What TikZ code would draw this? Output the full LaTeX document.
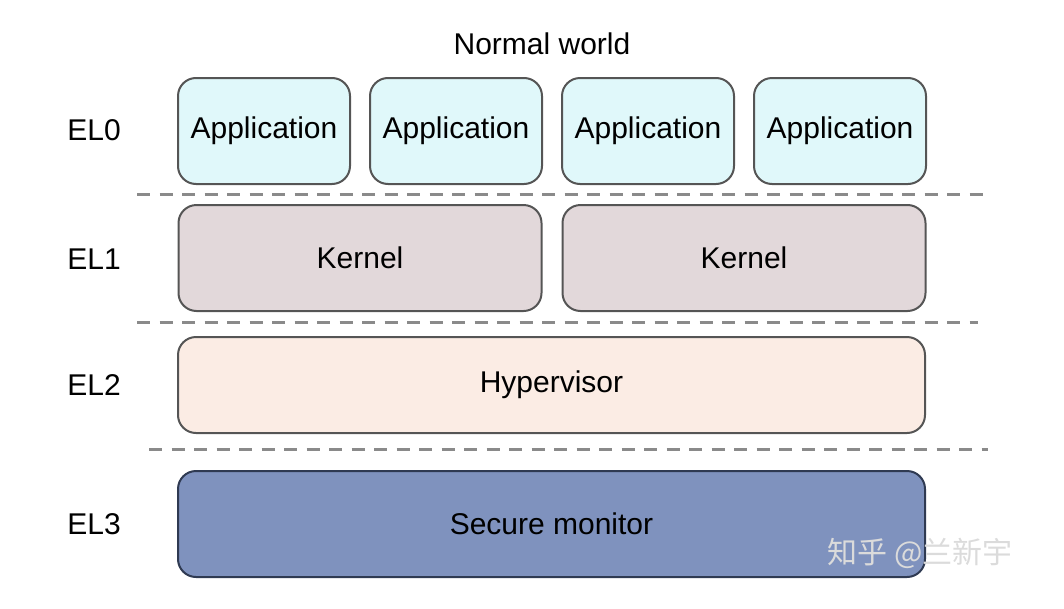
\documentclass[tikz,border=0pt]{standalone}
\usepackage{fontspec}
\setmainfont{Liberation Sans}
\newfontfamily\cjk{Noto Sans CJK SC}
\usepackage{tikz}
\usetikzlibrary{positioning,backgrounds}
\definecolor{appfill}{HTML}{E0F8FA}
\definecolor{kernfill}{HTML}{E2D8DA}
\definecolor{hypfill}{HTML}{FBECE4}
\definecolor{secfill}{HTML}{7F92BE}
\definecolor{boxline}{HTML}{555555}
\definecolor{secline}{HTML}{2F3A52}
\definecolor{sepline}{HTML}{8A8A8A}

\begin{document}
\begin{tikzpicture}[x=1pt,y=-1pt]
        \useasboundingbox (0,0) rectangle (1064,608);
        \tikzstyle{every node}=[font=\fontsize{30}{34}\selectfont, text=black]
        \tikzstyle{layer}=[draw=boxline, line width=2pt, rounded corners=18pt, inner sep=0pt]
        \tikzstyle{app}=[layer, fill=appfill, minimum width=172pt, minimum height=106pt]
        \tikzstyle{kern}=[layer, fill=kernfill, minimum width=363pt, minimum height=106pt]
        \tikzstyle{sep}=[draw=sepline, line width=3pt, dash pattern=on 13pt off 9.5pt]

        \node (NW) at (542,44) {Normal world};

        % exception levels
        \node (EL0) at (94,130) {EL0};
        \node (EL1) at (94,259) {EL1};
        \node (EL2) at (94,385) {EL2};
        \node (EL3) at (94,524) {EL3};

        \node[app] (A1) at (264,131) {Application};
        \node[app] (A2) at (456,131) {Application};
        \node[app] (A3) at (648,131) {Application};
        \node[app] (A4) at (840,131) {Application};

        \node[kern] (K1) at (360,258) {Kernel};
        \node[kern] (K2) at (744,258) {Kernel};

        \node[layer, fill=hypfill, minimum width=747pt, minimum height=96pt] (H) at (551.5,385) {Hypervisor};
        \node[layer, fill=secfill, draw=secline, minimum width=747pt, minimum height=106pt] (S) at (551.5,524) {Secure monitor};

        % separators
        \coordinate (s1a) at (137,194);
        \coordinate (s1b) at (986,194);
        \coordinate (s2a) at (137,322);
        \coordinate (s2b) at (978,322);
        \coordinate (s3a) at (149,449);
        \coordinate (s3b) at (988,449);
        \draw[sep] (s1a) -- (s1b);
        \draw[sep] (s2a) -- (s2b);
        \draw[sep] (s3a) -- (s3b);

        \node[font=\cjk\fontsize{30}{34}\selectfont, text=white!86!black] (WM) at (920,553) {知乎 @兰新宇};
      \end{tikzpicture}
\end{document}
